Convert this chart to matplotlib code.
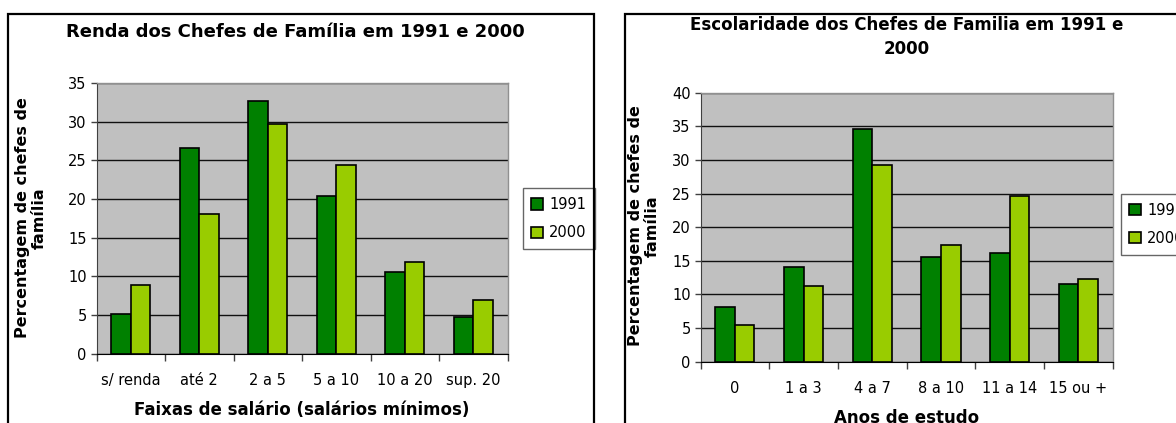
import matplotlib
matplotlib.use('Agg')
import matplotlib.pyplot as plt
from matplotlib.patches import Rectangle
import numpy as np

plt.rcParams['font.family'] = ['DejaVu Sans']

# Data
renda_cats = ['s/ renda', 'até 2', '2 a 5', '5 a 10', '10 a 20', 'sup. 20']
renda_1991 = [5.1, 26.6, 32.7, 20.4, 10.6, 4.8]
renda_2000 = [8.9, 18.1, 29.7, 24.4, 11.9, 7.0]

escol_cats = ['0', '1 a 3', '4 a 7', '8 a 10', '11 a 14', '15 ou +']
escol_1991 = [8.1, 14.0, 34.6, 15.6, 16.2, 11.6]
escol_2000 = [5.4, 11.2, 29.2, 17.4, 24.7, 12.25]

series_names = ['1991', '2000']
c1991 = '#008000'
c2000 = '#99CC00'

W, H = 1176, 423
fig = plt.figure(figsize=(W / 100, H / 100), dpi=100)


def fx(px):
    return px / W


def fy(py):
    return 1 - py / H


def draw_chart(box, cats, v1, v2, ymax, ystep):
    x0, y0, x1, y1 = box  # pixel coords (left, top, right, bottom)
    ax = fig.add_axes([fx(x0), fy(y1), fx(x1 - x0), (y1 - y0) / H])
    ax.set_facecolor('#C0C0C0')
    x = np.arange(len(cats))
    w = 0.2857
    ax.bar(x - w / 2, v1, w, color=c1991, edgecolor='black', linewidth=1.2,
           label=series_names[0], zorder=3)
    ax.bar(x + w / 2, v2, w, color=c2000, edgecolor='black', linewidth=1.2,
           label=series_names[1], zorder=3)
    ax.set_xlim(-0.5, len(cats) - 0.5)
    ax.set_ylim(0, ymax)
    ax.set_yticks(np.arange(0, ymax + 1, ystep))
    ax.yaxis.grid(True, color='#101010', linewidth=1, zorder=1)
    ax.set_axisbelow(True)
    ax.set_xticks(x)
    ax.set_xticklabels(cats, fontsize=10.5)
    ax.set_xticks(np.arange(-0.5, len(cats)), minor=True)
    ax.tick_params(axis='x', which='major', length=0, pad=14)
    ax.tick_params(axis='x', which='minor', length=5, width=1, color='#404040')
    ax.tick_params(axis='y', length=4, width=1, color='#404040', labelsize=10.5, pad=3)
    ax.spines['left'].set_color('#404040')
    ax.spines['bottom'].set_color('black')
    for s in ('top', 'right'):
        ax.spines[s].set_color('#909090')
        ax.spines[s].set_linewidth(1)
    return ax


ax1 = draw_chart((96.5, 83.0, 507.5, 353.7), renda_cats, renda_1991, renda_2000, 35, 5)
ax2 = draw_chart((700.5, 92.7, 1112.7, 361.6), escol_cats, escol_1991, escol_2000, 40, 5)

# chart frames
fig.add_artist(Rectangle((fx(8), fy(440)), fx(594 - 8), (440 - 14) / H,
                         transform=fig.transFigure, fill=False,
                         edgecolor='black', linewidth=1.6, clip_on=False))
fig.add_artist(Rectangle((fx(625), fy(440)), fx(1200 - 625), (440 - 14) / H,
                         transform=fig.transFigure, fill=False,
                         edgecolor='black', linewidth=1.6, clip_on=False))

# titles
fig.text(fx(295), fy(32), 'Renda dos Chefes de Família em 1991 e 2000',
         ha='center', va='center', fontsize=13, fontweight='bold')
fig.text(fx(906.6), fy(37), 'Escolaridade dos Chefes de Familia em 1991 e\n2000',
         ha='center', va='center', fontsize=12, fontweight='bold', linespacing=1.4)

# axis labels
fig.text(fx(31), fy(218), 'Percentagem de chefes de\nfamília', rotation=90,
         ha='center', va='center', fontsize=11.5, fontweight='bold',
         multialignment='center', linespacing=1.2)
fig.text(fx(644), fy(226), 'Percentagem de chefes de\nfamília', rotation=90,
         ha='center', va='center', fontsize=11.5, fontweight='bold',
         multialignment='center', linespacing=1.2)
fig.text(fx(302), fy(410), 'Faixas de salário (salários mínimos)',
         ha='center', va='center', fontsize=12, fontweight='bold')
fig.text(fx(906.6), fy(418), 'Anos de estudo',
         ha='center', va='center', fontsize=12, fontweight='bold')

# legends (the right one runs off the image edge, as in the original)
for ax, lx, ly in ((ax1, 522.7, 188.3), (ax2, 1120.7, 194)):
    leg = ax.legend(loc='upper left', bbox_to_anchor=(fx(lx), fy(ly)),
                    bbox_transform=fig.transFigure, borderaxespad=0,
                    fontsize=10.5, frameon=True, fancybox=False,
                    handlelength=0.8, handleheight=0.8, handletextpad=0.4,
                    labelspacing=0.9, borderpad=0.6)
    leg.get_frame().set_edgecolor('#404040')
    leg.get_frame().set_linewidth(1)

plt.savefig('out.png', dpi=100)
